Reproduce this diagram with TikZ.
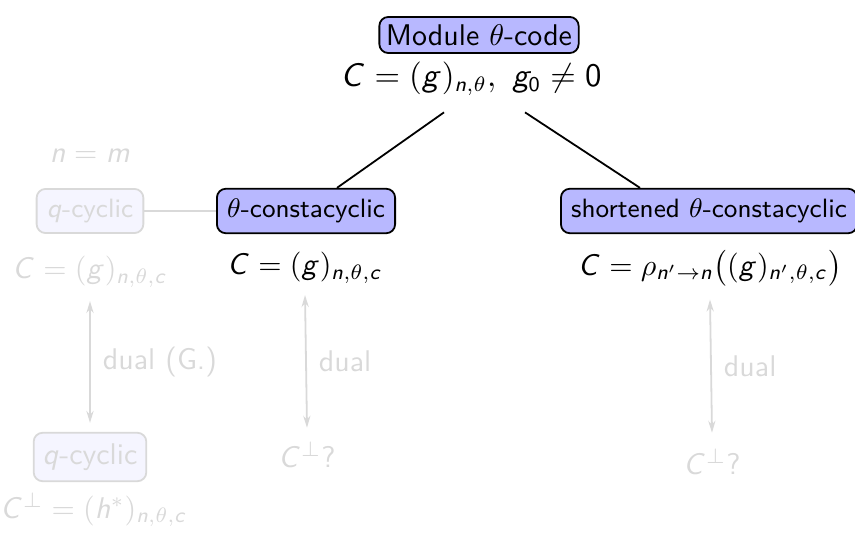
\documentclass[tikz,border=0pt]{standalone}
\usetikzlibrary{calc,arrows.meta}
\DeclareSymbolFont{sfit}{OT1}{cmss}{m}{sl}
\DeclareSymbolFont{sfup}{OT1}{cmss}{m}{n}
\DeclareMathSymbol{C}{\mathalpha}{sfit}{`C}
\DeclareMathSymbol{g}{\mathalpha}{sfit}{`g}
\DeclareMathSymbol{n}{\mathalpha}{sfit}{`n}
\DeclareMathSymbol{c}{\mathalpha}{sfit}{`c}
\DeclareMathSymbol{h}{\mathalpha}{sfit}{`h}
\DeclareMathSymbol{m}{\mathalpha}{sfit}{`m}
\DeclareMathSymbol{q}{\mathalpha}{sfit}{`q}
\DeclareMathSymbol{0}{\mathalpha}{sfup}{`0}
\colorlet{fadec}{black!15}
\begin{document}
\begin{tikzpicture}[x=0.334pt,y=-0.334pt,font=\sffamily,
  small/.style={font=\sffamily\fontsize{8.85}{10.5}\selectfont},
  box/.style={draw=black,line width=0.6pt,fill=blue!28,rounded corners=3pt,inner sep=3.4pt},
  fbox/.style={draw=fadec,line width=0.6pt,fill=blue!4,rounded corners=3pt,inner sep=3.4pt,text=fadec},
  ftext/.style={text=fadec},
  link/.style={draw=black,line width=0.6pt},
  flink/.style={draw=fadec,line width=0.6pt},
  darr/.style={draw=fadec,line width=0.6pt,{Stealth[length=4pt,width=2.4pt]}-{Stealth[length=4pt,width=2.4pt]}},
  lbl/.style={midway,right,text=fadec,inner sep=0pt,xshift=4pt}]
\useasboundingbox (0,0) rectangle (855,539);
% root
\node[box,inner xsep=2.2pt,inner ysep=2.5pt] (root) at (479,35) {Module $\theta$-code};
\node[font=\sffamily\fontsize{10.6}{12.5}\selectfont] (rootf) at (471,79) {$C=(g)_{n,\theta},\ g_0\neq 0$};
% middle
\node[box,small] (tc) at (306,211) {$\theta$-constacyclic};
\node (tcf) at (305,268) {$C=(g)_{n,\theta,c}$};
\node[ftext] (tcd) at (307,455) {$C^{\perp}$?};
% right
\node[box,small] (stc) at (709,211) {shortened $\theta$-constacyclic};
\node (stcf) at (710,268) {$C=\rho_{n^\prime\to n}\bigl((g)_{n^\prime,\theta,c}\bigr)$};
\node[ftext] (stcd) at (712,462) {$C^{\perp}$?};
% left (faded)
\node[ftext] (nm) at (90,156) {$n=m$};
\node[fbox,small] (qc) at (90,211) {$q$-cyclic};
\node[ftext] (qcf) at (90,272) {$C=(g)_{n,\theta,c}$};
\node[fbox,inner xsep=3pt,inner ysep=3.6pt] (qc2) at (90,457) {$q$-cyclic};
\node[ftext] (qc2f) at (94,510) {$C^{\perp}=(h^*)_{n,\theta,c}$};
% connectors
\draw[link] ($(rootf.south)+(-27,6)$) -- ($(tc.north)+(31,0)$);
\draw[link] ($(rootf.south)+(54,6)$) -- ($(stc.north)+(-69,0)$);
\draw[flink] (qc.east) -- (tc.west);
\draw[darr] ($(qcf.south)+(0,3)$) -- ($(qc2.north)+(0,-9)$) node[lbl] {dual (G.)};
\draw[darr] ($(tcf.south)+(0,1)$) -- ($(tcd.north)+(0,-4)$) node[lbl] {dual};
\draw[darr] ($(stcf.south)+(0,3)$) -- ($(stcd.north)+(0,-6)$) node[lbl] {dual};
\end{tikzpicture}
\end{document}
